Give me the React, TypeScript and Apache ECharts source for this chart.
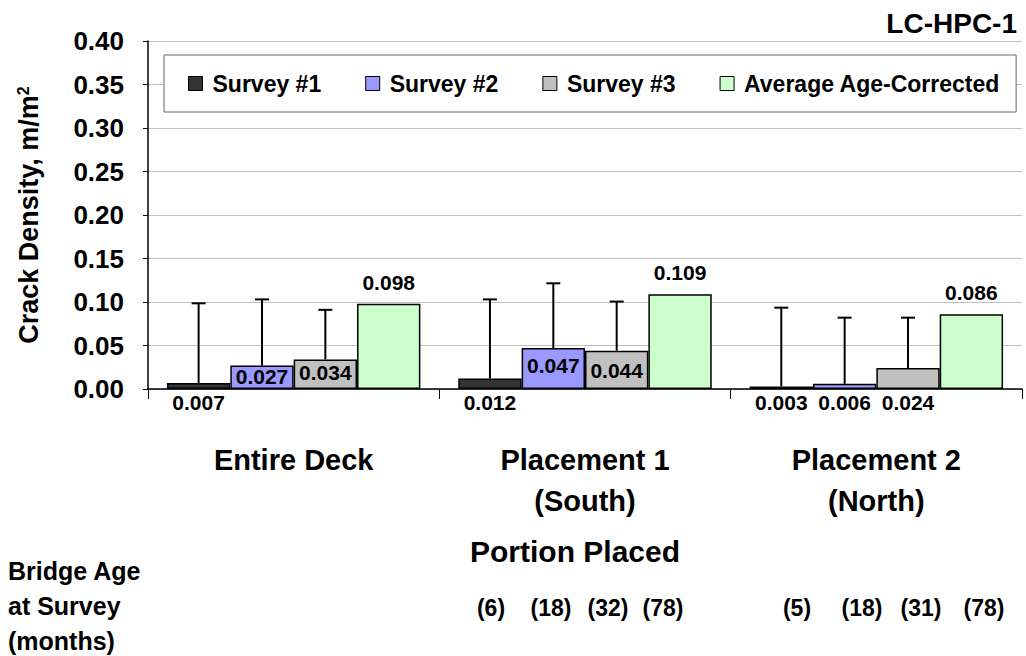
import React, { useEffect, useRef } from "react";
import * as echarts from "echarts";

const categories = ["Entire Deck", "Placement 1\n(South)", "Placement 2\n(North)"];
const seriesNames = ["Survey #1", "Survey #2", "Survey #3", "Average Age-Corrected"];
const survey1 = [0.007, 0.012, 0.003];
const survey2 = [0.027, 0.047, 0.006];
const survey3 = [0.034, 0.044, 0.024];
const averageAgeCorrected = [0.098, 0.109, 0.086];
// upper end of the (plus-only) error bars
const survey1ErrTop = [0.0985, 0.103, 0.0935];
const survey2ErrTop = [0.103, 0.1215, 0.082];
const survey3ErrTop = [0.091, 0.1005, 0.082];
const yMin = 0;
const yMax = 0.4;
const yInterval = 0.05;
const chartTitle = "LC-HPC-1";
const xAxisTitle = "Portion Placed";
const ageTitle = "Bridge Age\nat Survey\n(months)";
const placement1Ages = ["(6)", "(18)", "(32)", "(78)"];
const placement2Ages = ["(5)", "(18)", "(31)", "(78)"];

const colors = ["#333333", "#9999ff", "#c0c0c0", "#ccffcc"];
const FONT = "'Liberation Sans', Arial, sans-serif";
const BAR_CAT_GAP = 0.13;

// label placement per data point: [position, distance]
const labelPos: [string, number][][] = [
  [["bottom", 3], ["bottom", 3], ["bottom", 3]],
  [["insideTop", 0], ["insideTop", 7], ["bottom", 3]],
  [["insideTop", 3], ["insideTop", 9], ["bottom", 3]],
  [["top", 11], ["top", 11], ["top", 11]],
];

export default function App() {
  const ref = useRef<HTMLDivElement>(null);
  useEffect(() => {
    if (!ref.current) return;
    const chart = echarts.init(ref.current, null, { renderer: "svg" });
    const values = [survey1, survey2, survey3, averageAgeCorrected];
    const errTops = [survey1ErrTop, survey2ErrTop, survey3ErrTop];

    const barSeries = values.map((arr, k) => ({
      name: seriesNames[k],
      type: "bar",
      barGap: "0%",
      barCategoryGap: BAR_CAT_GAP * 100 + "%",
      itemStyle: { color: colors[k], borderColor: "#000", borderWidth: 1.5 },
      data: arr.map((v, i) => ({
        value: v,
        label: {
          show: true,
          position: labelPos[k][i][0],
          distance: labelPos[k][i][1],
          formatter: (p: any) => Number(p.value).toFixed(3),
          fontSize: 21,
          fontWeight: "bold",
          fontFamily: FONT,
          color: "#000",
        },
      })),
      z: 2,
    }));

    const errSeries = errTops.map((tops, k) => ({
      name: "err" + k,
      type: "custom",
      z: 3,
      silent: true,
      data: tops.map((t, i) => [i, values[k][i], t]),
      encode: { x: 0, y: [1, 2] },
      renderItem: (params: any, api: any) => {
        const base = api.coord([api.value(0), api.value(1)]);
        const top = api.coord([api.value(0), api.value(2)]);
        const band = api.size([1, 0])[0];
        const barW = (band * (1 - BAR_CAT_GAP)) / 4;
        const x = base[0] + (k - 1.5) * barW;
        const st = { stroke: "#000", lineWidth: 2 };
        return {
          type: "group",
          children: [
            { type: "line", shape: { x1: x, y1: base[1], x2: x, y2: top[1] }, style: st },
            { type: "line", shape: { x1: x - 7, y1: top[1], x2: x + 7, y2: top[1] }, style: st },
          ],
        };
      },
    }));

    const ageText = (arr: string[], xs: number[]) =>
      arr.map((t, i) => ({
        type: "text",
        x: xs[i],
        y: 608,
        style: {
          text: t,
          align: "center",
          verticalAlign: "middle",
          font: `bold 23px ${FONT}`,
          fill: "#000",
        },
      }));

    chart.setOption({
      animation: false,
      backgroundColor: "#fff",
      textStyle: { fontFamily: FONT },
      grid: { left: 148, right: 4, top: 41, bottom: 267, outerBoundsMode: "none" },
      legend: {
        data: seriesNames,
        left: 164,
        top: 55,
        padding: [17, 16, 17, 24],
        itemWidth: 14,
        itemHeight: 14,
        itemGap: 44,
        icon: "rect",
        borderColor: "#666",
        borderWidth: 1,
        backgroundColor: "#fff",
        itemStyle: { borderColor: "#000", borderWidth: 1 },
        textStyle: { fontSize: 23, fontWeight: "bold", color: "#000", fontFamily: FONT, padding: [0, 0, 0, 5] },
        z: 10,
      },
      xAxis: {
        type: "category",
        data: categories,
        axisLine: { lineStyle: { color: "#000", width: 1.5 } },
        axisTick: { show: true, length: 10, lineStyle: { color: "#000" } },
        axisLabel: {
          interval: 0,
          margin: 50,
          fontSize: 29,
          lineHeight: 41,
          fontWeight: "bold",
          color: "#000",
          fontFamily: FONT,
        },
      },
      yAxis: {
        type: "value",
        min: yMin,
        max: yMax,
        interval: yInterval,
        name: "Crack Density, m/m{sup|2}",
        nameLocation: "middle",
        nameRotate: 90,
        nameGap: 106,
        nameTextStyle: {
          fontSize: 27,
          fontWeight: "bold",
          color: "#000",
          fontFamily: FONT,
          rich: {
            sup: { fontSize: 16, fontWeight: "bold", color: "#000", fontFamily: FONT, verticalAlign: "top" },
          },
        },
        axisLine: { show: true, lineStyle: { color: "#000", width: 1.5 } },
        axisTick: { show: true, length: 5, lineStyle: { color: "#000" } },
        axisLabel: {
          margin: 24,
          fontSize: 26,
          fontWeight: "bold",
          color: "#000",
          fontFamily: FONT,
          formatter: (v: number) => v.toFixed(2),
        },
        splitLine: { show: true, lineStyle: { color: "#c0c0c0", width: 1 } },
      },
      series: [...barSeries, ...errSeries],
      graphic: [
        {
          type: "text",
          right: 9,
          top: 9,
          style: { text: chartTitle, font: `bold 28px ${FONT}`, fill: "#000" },
        },
        {
          type: "text",
          x: 575,
          y: 551,
          style: { text: xAxisTitle, align: "center", verticalAlign: "middle", font: `bold 30px ${FONT}`, fill: "#000" },
        },
        {
          type: "text",
          x: 8,
          y: 606,
          style: {
            text: ageTitle,
            align: "left",
            verticalAlign: "middle",
            font: `bold 25px ${FONT}`,
            lineHeight: 35,
            fill: "#000",
          },
        },
        ...ageText(placement1Ages, [491, 551, 608, 663]),
        ...ageText(placement2Ages, [797, 862, 921, 984]),
      ],
    });
    return () => chart.dispose();
  }, []);
  return (
    <div
      ref={ref}
      style={{ position: "fixed", left: 0, top: 0, width: 1026, height: 656 }}
    />
  );
}
